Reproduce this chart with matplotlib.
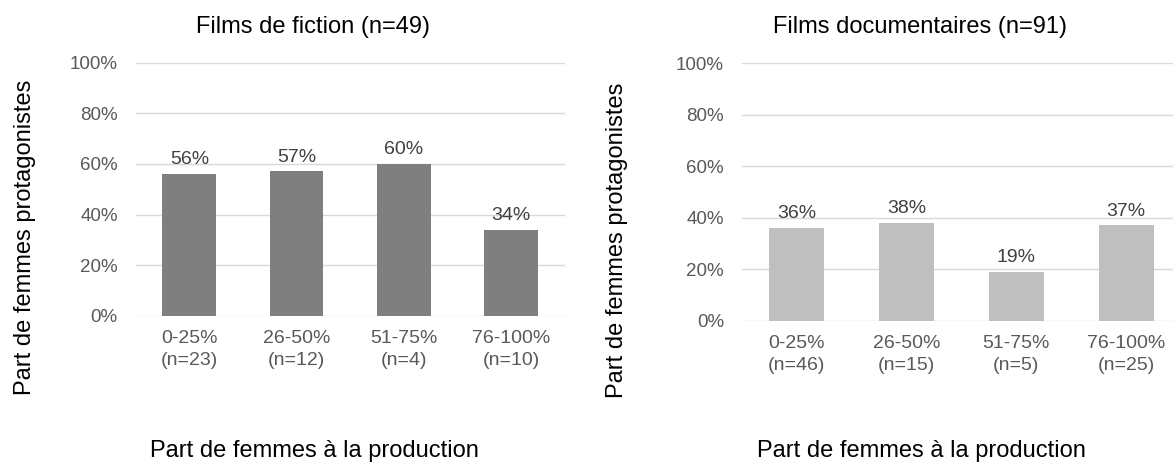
import matplotlib
matplotlib.use("Agg")
import matplotlib.pyplot as plt
from matplotlib.ticker import PercentFormatter

plt.rcParams['font.family'] = ['Liberation Sans', 'DejaVu Sans']

# Data
fiction_categories = ["0-25%\n(n=23)", "26-50%\n(n=12)", "51-75%\n(n=4)", "76-100%\n(n=10)"]
fiction_values = [56, 57, 60, 34]
doc_categories = ["0-25%\n(n=46)", "26-50%\n(n=15)", "51-75%\n(n=5)", "76-100%\n(n=25)"]
doc_values = [36, 38, 19, 37]
yticks = [0, 20, 40, 60, 80, 100]

W, H = 1173, 462
fig = plt.figure(figsize=(W / 100, H / 100), dpi=100)

TICK_C = "#595959"
LABEL_C = "#404040"
GRID_C = "#d9d9d9"


def px(x, y):
    return x / W, 1 - y / H


def draw(ax, cats, vals, color):
    x = list(range(len(cats)))
    bars = ax.bar(x, vals, width=0.5, color=color, zorder=3)
    ax.set_ylim(0, 100)
    ax.set_xlim(-0.5, len(cats) - 0.5)
    ax.set_yticks(yticks)
    ax.yaxis.set_major_formatter(PercentFormatter(decimals=0))
    ax.set_xticks(x)
    ax.set_xticklabels(cats, linespacing=1.42)
    ax.grid(axis='y', color=GRID_C, linewidth=1.0, zorder=0)
    for s in ax.spines.values():
        s.set_visible(False)
    ax.tick_params(axis='both', length=0, colors=TICK_C)
    ax.tick_params(axis='y', pad=13, labelsize=13.5)
    ax.tick_params(axis='x', pad=10, labelsize=14)
    for b, v in zip(bars, vals):
        ax.annotate(f"{v}%", (b.get_x() + b.get_width() / 2, v),
                    xytext=(0, 7), textcoords='offset points',
                    ha='center', va='baseline', fontsize=14, color=LABEL_C)


ax1 = fig.add_axes([135.7 / W, 1 - 315.7 / H, 428.8 / W, 253.0 / H])
draw(ax1, fiction_categories, fiction_values, "#7f7f7f")

ax2 = fig.add_axes([742.0 / W, 1 - 320.7 / H, 439.0 / W, 257.4 / H])
draw(ax2, doc_categories, doc_values, "#bfbfbf")

TITLE_FS = 17
# Titles
fig.text(*px(313, 33), "Films de fiction (n=49)", ha='center', va='baseline',
         fontsize=TITLE_FS, color='black')
fig.text(*px(920, 33), "Films documentaires (n=91)", ha='center', va='baseline',
         fontsize=TITLE_FS, color='black')

# Y labels
fig.text(*px(25, 237), "Part de femmes protagonistes", rotation=90,
         ha='center', va='center', fontsize=TITLE_FS, color='black')
fig.text(*px(617, 240), "Part de femmes protagonistes", rotation=90,
         ha='center', va='center', fontsize=TITLE_FS, color='black')

# X labels
fig.text(*px(314, 456.5), "Part de femmes à la production", ha='center', va='baseline',
         fontsize=TITLE_FS, color='black')
fig.text(*px(921, 456.5), "Part de femmes à la production", ha='center', va='baseline',
         fontsize=TITLE_FS, color='black')

fig.savefig("out.png", dpi=100)
